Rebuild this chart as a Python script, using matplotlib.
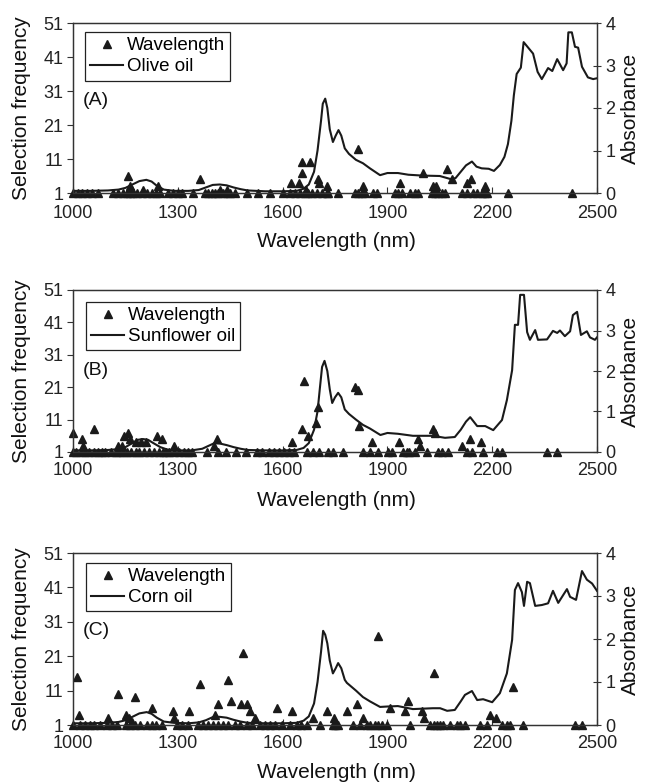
import matplotlib
matplotlib.use('Agg')
import matplotlib.pyplot as plt
from matplotlib.lines import Line2D

plt.rcParams['font.family'] = ['Liberation Sans', 'DejaVu Sans']

# ---------------- data ----------------
x_ticks = [1000, 1300, 1600, 1900, 2200, 2500]
freq_ticks = [1, 11, 21, 31, 41, 51]
abs_ticks = [0, 1, 2, 3, 4]
panel_labels = ['(A)', '(B)', '(C)']
oil_names = ['Olive oil', 'Sunflower oil', 'Corn oil']

# absorbance spectra
olive_wl = [1000, 1050, 1100, 1130, 1150, 1170, 1190, 1210, 1225, 1240, 1260, 1290, 1330, 1360, 1380,
            1400, 1420, 1440, 1460, 1480, 1500, 1550, 1600, 1640, 1660, 1675, 1690, 1700, 1710, 1715,
            1722, 1728, 1735, 1744, 1752, 1760, 1768, 1778, 1790, 1810, 1830, 1850, 1879, 1900, 1930,
            1960, 2000, 2050, 2080, 2095, 2110, 2125, 2142, 2155, 2170, 2190, 2205, 2222, 2235, 2245,
            2255, 2262, 2270, 2282, 2290, 2300, 2317, 2330, 2342, 2360, 2372, 2386, 2403, 2413, 2418,
            2428, 2437, 2446, 2457, 2474, 2489, 2500]
olive_abs = [0.05, 0.05, 0.06, 0.08, 0.12, 0.20, 0.28, 0.31, 0.27, 0.17, 0.08, 0.05, 0.05, 0.07, 0.13,
             0.19, 0.20, 0.18, 0.13, 0.09, 0.06, 0.04, 0.04, 0.05, 0.10, 0.20, 0.50, 1.00, 1.70, 2.10,
             2.22, 2.00, 1.50, 1.20, 1.35, 1.48, 1.35, 1.05, 0.92, 0.78, 0.70, 0.58, 0.42, 0.47, 0.47,
             0.43, 0.41, 0.40, 0.33, 0.35, 0.50, 0.65, 0.74, 0.62, 0.58, 0.57, 0.52, 0.66, 0.85, 1.15,
             1.70, 2.30, 2.80, 2.95, 3.55, 3.45, 3.28, 2.85, 2.68, 2.94, 2.87, 3.15, 2.89, 3.05, 3.78,
             3.78, 3.44, 3.42, 2.97, 2.72, 2.68, 2.70]

sun_wl = [1000, 1050, 1100, 1130, 1150, 1170, 1185, 1200, 1215, 1230, 1250, 1270, 1300, 1340, 1370,
          1390, 1405, 1420, 1440, 1460, 1480, 1500, 1550, 1600, 1640, 1660, 1675, 1690, 1700, 1707,
          1713, 1720, 1728, 1735, 1742, 1750, 1759, 1768, 1778, 1790, 1810, 1830, 1850, 1880, 1900,
          1930, 1973, 2030, 2065, 2093, 2110, 2125, 2137, 2157, 2180, 2203, 2228, 2242, 2257, 2265,
          2274, 2280, 2291, 2300, 2308, 2323, 2331, 2357, 2374, 2386, 2394, 2408, 2423, 2431, 2443,
          2454, 2471, 2480, 2494, 2500]
sun_abs = [0.04, 0.04, 0.05, 0.07, 0.12, 0.22, 0.30, 0.32, 0.30, 0.22, 0.12, 0.06, 0.04, 0.04, 0.08,
           0.16, 0.22, 0.21, 0.17, 0.12, 0.08, 0.05, 0.04, 0.04, 0.05, 0.10, 0.22, 0.55, 1.00, 1.60,
           2.10, 2.25, 2.00, 1.55, 1.21, 1.35, 1.46, 1.35, 1.05, 0.94, 0.80, 0.67, 0.58, 0.42, 0.47,
           0.45, 0.40, 0.40, 0.35, 0.37, 0.55, 0.75, 0.86, 0.64, 0.64, 0.54, 0.79, 1.28, 2.02, 3.14,
           3.14, 3.88, 3.88, 2.96, 2.77, 3.01, 2.77, 2.78, 2.99, 2.94, 3.00, 2.86, 2.98, 3.38, 3.46,
           2.89, 2.98, 2.83, 2.77, 2.83]

corn_wl = [1000, 1050, 1100, 1130, 1150, 1170, 1190, 1211, 1225, 1240, 1260, 1290, 1330, 1360, 1380,
           1402, 1420, 1440, 1460, 1480, 1500, 1550, 1600, 1640, 1660, 1675, 1690, 1700, 1710, 1716,
           1722, 1728, 1735, 1744, 1752, 1759, 1768, 1778, 1784, 1810, 1830, 1850, 1879, 1900, 1930,
           1973, 2030, 2051, 2071, 2093, 2110, 2122, 2142, 2157, 2174, 2200, 2222, 2242, 2257, 2265,
           2274, 2285, 2291, 2300, 2308, 2323, 2342, 2360, 2374, 2389, 2414, 2423, 2440, 2457, 2471,
           2486, 2500]
corn_abs = [0.04, 0.04, 0.05, 0.07, 0.11, 0.19, 0.27, 0.30, 0.26, 0.17, 0.08, 0.05, 0.04, 0.06, 0.11,
            0.19, 0.19, 0.17, 0.12, 0.08, 0.05, 0.04, 0.04, 0.05, 0.10, 0.20, 0.50, 1.00, 1.70, 2.19,
            2.10, 1.90, 1.50, 1.20, 1.32, 1.44, 1.32, 1.05, 0.98, 0.80, 0.65, 0.55, 0.42, 0.43, 0.44,
            0.37, 0.39, 0.39, 0.33, 0.35, 0.55, 0.70, 0.79, 0.58, 0.60, 0.53, 0.74, 1.20, 1.98, 3.14,
            3.30, 3.09, 2.77, 3.33, 3.30, 2.77, 2.79, 2.83, 3.12, 2.84, 3.16, 2.98, 2.91, 3.58, 3.38,
            3.29, 3.12]

# selection frequency of wavelengths
olive_sel_wl = [1001, 1015, 1025, 1041, 1053, 1072, 1115, 1130, 1142, 1154, 1163, 1173, 1182, 1197, 1211,
                1225, 1238, 1248, 1273, 1287, 1302, 1311, 1344, 1378, 1387, 1397, 1407, 1416, 1429, 1440,
                1449, 1464, 1497, 1530, 1564, 1602, 1621, 1636, 1650, 1664, 1674, 1683, 1698, 1712, 1726,
                1731, 1760, 1807, 1817, 1826, 1836, 1860, 1869, 1922, 1931, 1941, 1965, 1979, 1989, 2027,
                2036, 2046, 2056, 2065, 2113, 2127, 2146, 2156, 2170, 2180, 2184, 2246, 2428,
                1157, 1163, 1170, 1200, 1243, 1364, 1420, 1440, 1624, 1647, 1656, 1655, 1668, 1679, 1701,
                1705, 1727, 1816, 1830, 1936, 2002, 2030, 2040, 2071, 2085, 2128, 2140, 2180]
olive_sel_freq = [1] * 73 + [6, 3, 2, 2, 3, 5, 2, 2, 4, 4, 7, 10, 2, 10, 5,
                             4, 3, 14, 3, 4, 7, 3, 3, 8, 5, 4, 5, 3]

sun_sel_wl = [1000, 1009, 1023, 1034, 1047, 1059, 1072, 1084, 1093, 1108, 1122, 1132, 1143, 1154, 1165,
              1180, 1189, 1204, 1218, 1231, 1245, 1257, 1266, 1276, 1290, 1304, 1318, 1328, 1340, 1385,
              1414, 1437, 1466, 1494, 1528, 1542, 1561, 1576, 1590, 1604, 1619, 1633, 1670, 1686, 1705,
              1731, 1745, 1774, 1831, 1850, 1874, 1903, 1912, 1946, 1957, 1963, 1979, 2012, 2046, 2055,
              2074, 2127, 2141, 2175, 2213, 2227, 2356, 2385,
              1000, 1025, 1028, 1061, 1130, 1140, 1145, 1158, 1163, 1180, 1195, 1210, 1240, 1255, 1290,
              1405, 1412, 1627, 1656, 1662, 1673, 1696, 1700, 1807, 1816, 1819, 1856, 1933, 1988, 1993,
              2031, 2036, 2114, 2137, 2168]
sun_sel_freq = [1] * 68 + [7, 5, 3, 8, 3, 3, 6, 7, 5, 4, 4, 4, 6, 5, 3,
                           3, 5, 4, 8, 23, 6, 10, 15, 21, 20, 9, 4, 4, 5, 3,
                           8, 7, 3, 5, 4]

corn_sel_wl = [1001, 1020, 1034, 1049, 1061, 1077, 1096, 1111, 1125, 1152, 1163, 1177, 1192, 1211, 1225,
               1239, 1254, 1297, 1311, 1330, 1359, 1373, 1387, 1402, 1416, 1429, 1445, 1464, 1478, 1497,
               1511, 1535, 1550, 1564, 1578, 1597, 1621, 1640, 1654, 1669, 1707, 1745, 1750, 1760, 1802,
               1822, 1841, 1850, 1865, 1874, 1884, 1898, 1965, 2022, 2032, 2041, 2051, 2060, 2079, 2098,
               2108, 2122, 2165, 2184, 2227, 2242, 2251, 2289, 2437, 2456,
               1012, 1018, 1099, 1130, 1152, 1160, 1170, 1177, 1227, 1285, 1290, 1333, 1364, 1407, 1414,
               1443, 1452, 1480, 1487, 1497, 1508, 1521, 1583, 1626, 1688, 1727, 1747, 1784, 1813, 1830,
               1873, 1908, 1950, 1959, 1999, 2006, 2034, 2194, 2211, 2260]
corn_sel_freq = [1] * 70 + [15, 4, 3, 10, 4, 3, 2, 9, 6, 5, 3, 5, 13, 4, 7,
                            14, 8, 7, 22, 7, 5, 3, 6, 5, 3, 5, 3, 5, 7, 3,
                            27, 6, 5, 8, 5, 3, 16, 4, 3, 12]

spectra = [(olive_wl, olive_abs), (sun_wl, sun_abs), (corn_wl, corn_abs)]
selections = [(olive_sel_wl, olive_sel_freq), (sun_sel_wl, sun_sel_freq), (corn_sel_wl, corn_sel_freq)]

# ---------------- layout ----------------
W, H = 649, 783
fig = plt.figure(figsize=(W / 100, H / 100), dpi=100)

# (top_px, bottom_px) of each panel
panel_px = [(23, 193), (290, 452), (553, 725)]
left_px, right_px = 73, 597
xlabel_y = [241, 500, 773]
xtick_pad = [8.5, 7.0, 7.5]
legend_anchor = [(0.023, 0.947), (0.025, 0.926), (0.025, 0.942)]
label_pos = [(0.019, 0.547), (0.019, 0.506), (0.019, 0.552)]

ink = '#1a1a1a'
for i in range(3):
    top, bot = panel_px[i]
    ax = fig.add_axes([left_px / W, 1 - bot / H, (right_px - left_px) / W, (bot - top) / H])
    ax2 = ax.twinx()

    sw, sf = selections[i]
    ax.plot(sw, sf, linestyle='none', marker='^', color=ink, markersize=5.8,
            clip_on=False, zorder=3)
    wl, ab = spectra[i]
    ax2.plot(wl, ab, color=ink, linewidth=1.5, zorder=2)

    ax.set_xlim(1000, 2500)
    ax.set_ylim(1, 51)
    ax2.set_ylim(0, 4)
    ax.set_xticks(x_ticks)
    ax.set_yticks(freq_ticks)
    ax2.set_yticks(abs_ticks)

    for a in (ax, ax2):
        for s in a.spines.values():
            s.set_linewidth(0.9)
            s.set_color('#333333')
    ax.tick_params(axis='x', direction='in', length=4, width=0.8, labelsize=13,
                   pad=xtick_pad[i], colors='#333333', labelcolor='#222222')
    ax.tick_params(axis='y', direction='out', length=4, width=0.8, labelsize=13,
                   pad=3, colors='#333333', labelcolor='#222222')
    ax2.tick_params(axis='y', direction='inout', length=6, width=0.8, labelsize=13,
                    pad=3, colors='#333333', labelcolor='#222222')

    handles = [Line2D([], [], linestyle='none', marker='^', color=ink, markersize=5.8),
               Line2D([], [], color=ink, linewidth=1.5)]
    leg = ax2.legend(handles, ['Wavelength', oil_names[i]], loc='upper left',
                     bbox_to_anchor=legend_anchor[i], borderaxespad=0, fancybox=False,
                     framealpha=1, edgecolor='#222222', fontsize=13.5, handlelength=1.75,
                     handletextpad=0.2, labelspacing=0.2, borderpad=0.28)
    leg.get_frame().set_linewidth(0.9)

    ax2.text(label_pos[i][0], label_pos[i][1], panel_labels[i], transform=ax2.transAxes,
             ha='left', va='center', fontsize=14, color='#111111')

    cy = (top + bot) / 2
    fig.text(22 / W, 1 - cy / H, 'Selection frequency', rotation=90, ha='center', va='center',
             fontsize=15, color='#111111')
    fig.text(630 / W, 1 - cy / H, 'Absorbance', rotation=90, ha='center', va='center',
             fontsize=15, color='#111111')
    fig.text(336 / W, 1 - xlabel_y[i] / H, 'Wavelength (nm)', ha='center', va='center',
             fontsize=15, color='#111111')

fig.savefig('out.png', dpi=100)
